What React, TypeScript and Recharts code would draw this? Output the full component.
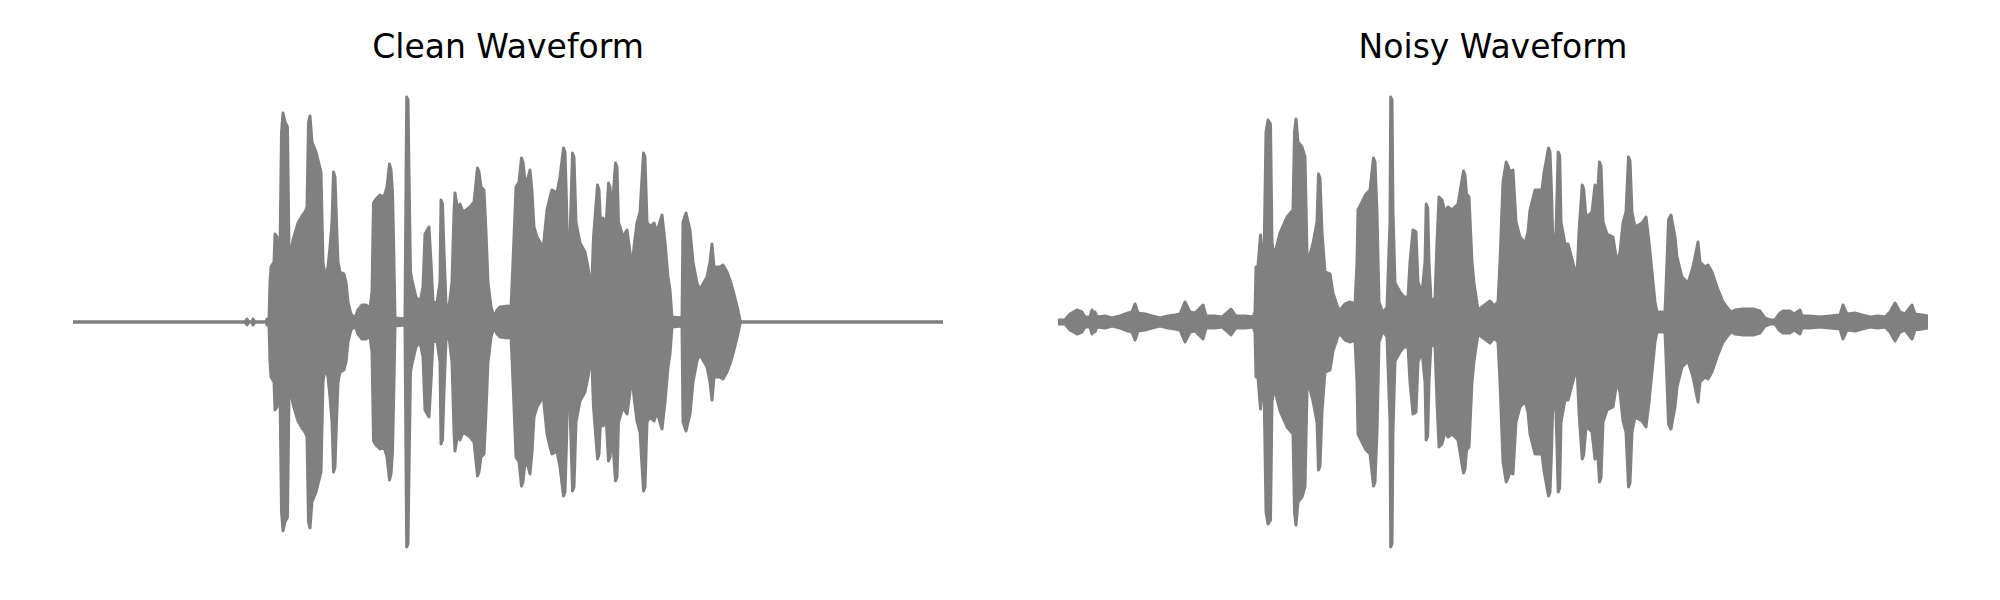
import { AreaChart, Area, XAxis, YAxis } from 'recharts';

// Waveform envelopes: [time position, peak amplitude].
// Time runs 0..870 across each panel, amplitude is symmetric around zero (max ~225).
const cleanEnvelope: [number, number][] = [
  [0, 0], [172, 0], [174, 3], [176, 0], [179, 0], [180, 3], [182, 0], [193, 0], [194, 3],
  [196, 2], [197, 40], [198, 55], [201, 60], [202, 88], [204, 85], [205.5, 62], [207, 70],
  [208.5, 190], [210, 209], [212, 200], [214.5, 195], [216, 70], [217, 65], [220, 82],
  [225, 99], [229, 106], [232, 110], [234, 115], [235.5, 200], [237, 206], [239, 180],
  [243, 170], [248, 150], [250, 60], [252, 45], [255, 55], [257, 75], [259, 100], [260.5, 150],
  [262, 145], [263.5, 100], [265, 60], [267, 50], [271, 48], [273, 40], [275, 20], [278, 8], [282, 4],
  [285, 12], [289, 17], [293, 17], [297, 14], [299, 30], [300.5, 119], [303, 123], [307, 127],
  [311, 125], [314, 135], [316.5, 158], [318, 152], [319.5, 130], [321, 60], [322, 4], [332, 3], [333, 140],
  [333.7, 225], [335, 222], [336, 150], [337.5, 50], [339, 42], [343, 25], [347, 20], [350, 35], [352, 88],
  [356, 95], [358, 60], [360, 20], [364, 19], [367, 40], [368, 122], [369.5, 118], [371, 70], [373, 18],
  [376, 15], [379, 40], [381, 110], [382, 129], [385, 110], [387, 118], [390, 110], [393, 112],
  [397, 115], [401, 120], [404.5, 154], [406, 150], [408, 135], [411, 132], [413, 90], [415, 40], [418, 15],
  [421, 5], [424, 12], [427, 15], [435, 16], [438, 14], [440, 60], [443, 135], [446, 140],
  [448.5, 164], [450, 160], [451.5, 145], [454, 140], [457, 152], [459, 130], [461, 95], [464, 85], [467, 80],
  [470, 72], [474, 112], [477, 125], [479, 132], [484, 129], [487, 145], [490.5, 174], [492, 170], [493.5, 120],
  [494.5, 72], [497, 85], [499.5, 169], [501, 165], [503, 100], [507, 79], [512, 70], [515, 55], [518.5, 30],
  [520.5, 85], [524.5, 137], [526, 132], [527.5, 100], [530, 104], [533, 95], [535.5, 139], [537, 135], [539, 110],
  [542.5, 159], [544, 155], [545.5, 100], [550, 85], [554, 92], [557, 70], [559, 52], [561, 75], [564, 99], [567, 110],
  [570.5, 169], [572, 165], [574, 100], [577, 95], [581, 99], [584, 90], [589, 107], [592, 80], [595, 45],
  [597, 32], [599, 5], [609, 4], [610, 100], [613, 109], [617, 92], [620, 60], [624, 39],
  [627, 32], [630, 38], [634, 45], [637, 60], [639, 78], [641, 55], [647, 55], [650, 57],
  [654, 50], [657, 42], [661, 28], [664, 16], [667, 2], [668, 0], [870, 0],
];

const noisyEnvelope: [number, number][] = [
  [0, 2], [7, 2], [12, 8], [19, 12], [24, 10], [27, 5], [32, 5], [34, 12], [36, 5], [37, 10],
  [39, 5], [47, 6], [54, 4], [62, 6], [70, 9], [74, 10], [77, 18], [80, 9], [87, 8], [94, 6],
  [102, 4], [110, 6], [117, 7], [122, 8], [127, 20], [132, 10], [137, 9], [145, 17], [148, 6],
  [157, 6], [164, 5], [173, 13], [178, 6], [187, 6], [195, 5], [197, 10], [198, 55], [200, 56],
  [202.5, 87], [204, 70], [206, 60], [208, 190], [210, 202], [212.5, 198], [214, 80], [216, 65],
  [222, 89], [229, 105], [235, 112], [236.5, 190], [238, 203], [240, 180], [244, 175], [247, 165],
  [249, 70], [250, 59], [255, 79], [259, 100], [260.5, 148], [262, 144], [264, 90], [267, 50], [272, 48],
  [275, 29], [280, 14], [282, 12], [287, 18], [292, 20], [297, 18], [299, 60], [300, 112],
  [304, 120], [308, 128], [312, 132], [315.5, 164], [317, 160], [319, 110], [321, 20], [325, 9], [329, 15],
  [332, 100], [332.7, 225], [334, 222], [335, 110], [337, 39], [342, 30], [346, 25], [350, 25], [352, 60],
  [355, 92], [358, 90], [360, 40], [364, 29], [367, 60], [368.2, 118], [369.7, 114], [371, 60], [373, 22],
  [377, 24], [379, 80], [381, 125], [384, 122], [387, 110], [390, 115], [394, 112], [400, 118],
  [405.5, 151], [407, 147], [408.5, 128], [411, 125], [414, 60], [416, 39], [420, 12], [424, 15], [432, 21],
  [436, 16], [440, 20], [442, 60], [445, 140], [448.2, 160], [450, 156], [452, 150], [455, 152], [458, 100],
  [462, 85], [467, 79], [470, 90], [472, 112], [477, 132], [484, 132], [486, 149], [490.5, 174], [492, 170],
  [493.5, 130], [495, 75], [498, 90], [500.2, 170], [501.7, 166], [503, 100], [507, 78], [510, 78], [515, 59],
  [519, 45], [521, 90], [522, 105], [524.2, 137], [525.7, 133], [528, 105], [531, 107], [534, 110], [537, 137],
  [539, 120], [541.5, 160], [543, 156], [545, 100], [549, 88], [555, 85], [559, 59], [562, 70], [565, 99],
  [568, 110], [570.5, 165], [572, 161], [574, 110], [577, 95], [584, 99], [588, 105], [591, 80], [594, 50],
  [597, 20], [599, 10], [607, 10], [609, 60], [610.5, 102], [613, 107], [617, 85], [619, 65],
  [624, 45], [630, 39], [635, 55], [640, 80], [642, 60], [647, 55], [650, 57], [654, 50],
  [659, 35], [665, 20], [671, 12], [674, 10], [677, 12], [685, 13], [695, 13], [702, 11],
  [707, 4], [712, 2], [717, 2], [721, 8], [725, 11], [732, 11], [736, 8], [742, 12], [744, 6],
  [752, 6], [762, 5], [772, 6], [782, 7], [785, 17], [789, 8], [797, 9], [804, 7], [812, 5],
  [820, 6], [827, 5], [832, 10], [837, 19], [842, 10], [847, 8], [854, 17], [857, 8], [864, 7],
  [870, 6],
];

const titles = ['Clean Waveform', 'Noisy Waveform'];
const timeDomain: [number, number] = [0, 870];
const ampDomain: [number, number] = [-250, 250];

const GRAY = '#808080';
const PANEL_W = 870;

function Waveform({ envelope, title, left }: { envelope: [number, number][]; title: string; left: number }) {
  const data = envelope.map(([t, a]) => ({ t, band: [-a, a] }));
  return (
    <div style={{ position: 'absolute', left, top: 0, width: PANEL_W, height: 600 }}>
      <div
        style={{
          position: 'absolute',
          top: 30,
          left: 0,
          width: PANEL_W,
          textAlign: 'center',
          fontFamily: '"DejaVu Sans", sans-serif',
          fontSize: 33,
          lineHeight: '33px',
          color: '#000',
        }}
      >
        {title}
      </div>
      <AreaChart width={PANEL_W} height={600} data={data} margin={{ top: 72, right: 0, bottom: 28, left: 0 }}>
        <XAxis dataKey="t" type="number" domain={timeDomain} hide />
        <YAxis type="number" domain={ampDomain} hide />
        <Area
          type="linear"
          dataKey="band"
          stroke={GRAY}
          strokeWidth={3}
          strokeLinejoin="round"
          strokeLinecap="round"
          fill={GRAY}
          fillOpacity={1}
          dot={false}
          activeDot={false}
          isAnimationActive={false}
        />
      </AreaChart>
    </div>
  );
}

export default function App() {
  return (
    <div style={{ position: 'absolute', left: 0, top: 0, width: 2000, height: 600, background: '#fff' }}>
      <Waveform envelope={cleanEnvelope} title={titles[0]} left={73} />
      <Waveform envelope={noisyEnvelope} title={titles[1]} left={1058} />
    </div>
  );
}
